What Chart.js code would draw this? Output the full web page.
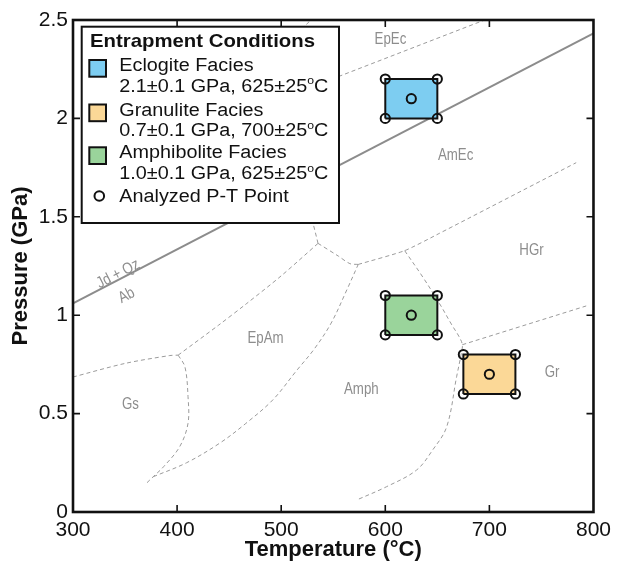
<!DOCTYPE html>
<html><head><meta charset="utf-8">
<script src="https://cdn.jsdelivr.net/npm/chart.js@4.4.0/dist/chart.umd.min.js"></script>
<style>html,body{margin:0;padding:0;background:#fff;}</style>
</head><body>
<canvas id="c" width="617" height="567"></canvas>
<script>
// ---------- data ----------
const tempTicks = [300, 400, 500, 600, 700, 800];      // °C
const pressTicks = [0, 0.5, 1, 1.5, 2, 2.5];           // GPa

const faciesNames = ['Eclogite Facies', 'Granulite Facies', 'Amphibolite Facies'];
const faciesP = [2.1, 0.7, 1.0];
const faciesPErr = [0.1, 0.1, 0.1];
const faciesT = [625, 700, 625];
const faciesTErr = [25, 25, 25];
const faciesColors = ['#7dcdf1', '#fbd897', '#9ad49b'];

// Jd + Qz = Ab reaction (solid)
const reactionT = [300, 800];
const reactionP = [1.06, 2.432];

// metamorphic facies boundaries (dashed)
const gsTopT = [300, 350, 393, 401];
const gsTopP = [0.686, 0.755, 0.795, 0.797];
const gsEpAmT = [401, 407.5, 410.5, 410.5, 402.5, 387, 377, 370.5];
const gsEpAmP = [0.797, 0.738, 0.586, 0.451, 0.332, 0.23, 0.179, 0.146];
const epAmTopT = [401, 440, 467, 500, 535.4];
const epAmTopP = [0.797, 0.95, 1.06, 1.2, 1.365];
const epAmAmphT = [377, 409, 441, 466, 492, 515, 532, 548, 563, 574];
const epAmAmphP = [0.179, 0.25, 0.35, 0.45, 0.57, 0.72, 0.83, 0.96, 1.128, 1.258];
const amEcLowT = [535.4, 555, 566, 574];
const amEcLowP = [1.365, 1.3, 1.262, 1.258];
const upLegT = [535.4, 530.3, 526];
const upLegP = [1.365, 1.474, 1.6];
const hgrTopT = [574, 618.6, 652, 783.4];
const hgrTopP = [1.258, 1.328, 1.416, 1.775];
const amphGrT = [618.6, 636, 652, 664, 671, 674, 673, 668.5, 659, 645.5, 630, 601, 572.5];
const amphGrP = [1.328, 1.194, 1.06, 0.95, 0.89, 0.85, 0.806, 0.687, 0.433, 0.315, 0.213, 0.128, 0.061];
const grHgrT = [674, 793];
const grHgrP = [0.85, 1.047];
const epEcT = [530, 556.2, 695.4];
const epEcP = [2.161, 2.215, 2.5];
const topLeftT = [505, 528.5];
const topLeftP = [2.378, 2.5];

const regionNames = ['EpEc', 'AmEc', 'HGr', 'Gr', 'Amph', 'EpAm', 'Gs'];
const regionT = [605, 667.6, 740.5, 760.2, 577, 485, 355.2];
const regionP = [2.398, 1.811, 1.326, 0.706, 0.62, 0.879, 0.544];
const reactionLabels = ['Jd + Qz', 'Ab'];
const reactionLabelT = [343.4, 351.5];
const reactionLabelP = [1.209, 1.099];

// ---------- build ----------
const FAM = "'Liberation Sans', Arial, Helvetica, sans-serif";
const zip = (T, P) => T.map((t, i) => ({x: t, y: P[i]}));

const pointData = [];
const boxSets = faciesNames.map((n, i) => {
  const t0 = faciesT[i] - faciesTErr[i], t1 = faciesT[i] + faciesTErr[i];
  const p0 = faciesP[i] - faciesPErr[i], p1 = faciesP[i] + faciesPErr[i];
  pointData.push({x: t0, y: p0}, {x: t1, y: p0}, {x: t1, y: p1}, {x: t0, y: p1}, {x: faciesT[i], y: faciesP[i]});
  return {
    type: 'line', label: n,
    data: [{x: t0, y: p0}, {x: t1, y: p0}, {x: t1, y: p1}, {x: t0, y: p1}, {x: t0, y: p0}],
    borderColor: '#111', borderWidth: 2, backgroundColor: faciesColors[i],
    fill: 'shape', pointRadius: 0, tension: 0
  };
});

const dashed = (T, P, tension) => ({
  type: 'line', data: zip(T, P), borderColor: '#9b9b9b', borderWidth: 1,
  borderDash: [4, 3], pointRadius: 0, fill: false, tension: tension || 0
});

const datasets = [
  {type: 'line', label: 'Analyzed P-T Point', data: pointData, showLine: false,
   pointRadius: 4.6, pointBorderWidth: 2, pointBorderColor: '#111',
   pointBackgroundColor: 'rgba(0,0,0,0)', pointStyle: 'circle'},
  ...boxSets,
  {type: 'line', data: zip(reactionT, reactionP), borderColor: '#8c8c8c', borderWidth: 2, pointRadius: 0, fill: false},
  dashed(gsTopT, gsTopP, 0.3),
  dashed(gsEpAmT, gsEpAmP, 0.35),
  dashed(epAmTopT, epAmTopP, 0.3),
  dashed(epAmAmphT, epAmAmphP, 0.35),
  dashed(amEcLowT, amEcLowP, 0.3),
  dashed(upLegT, upLegP, 0),
  dashed(hgrTopT, hgrTopP, 0.2),
  dashed(amphGrT, amphGrP, 0.35),
  dashed(grHgrT, grHgrP, 0),
  dashed(epEcT, epEcP, 0),
  dashed(topLeftT, topLeftP, 0)
];

function drawRich(ctx, text, x, y, size, sx, weight) {
  const parts = text.split('°');
  const segs = [];
  parts.forEach((p, i) => { if (i > 0) segs.push({t: 'o', sup: true}); segs.push({t: p}); });
  ctx.save(); ctx.translate(x, y); ctx.scale(sx, 1);
  ctx.textAlign = 'left'; ctx.textBaseline = 'alphabetic';
  let cx = 0;
  segs.forEach(s => {
    const fs = s.sup ? size * 0.62 : size;
    ctx.font = `${weight} ${fs}px ${FAM}`;
    ctx.fillText(s.t, cx, s.sup ? -size * 0.4 : 0);
    cx += ctx.measureText(s.t).width;
  });
  ctx.restore();
}

function drawNarrow(ctx, text, x, y, rot) {
  ctx.save();
  ctx.translate(x, y);
  if (rot) ctx.rotate(rot);
  ctx.scale(0.83, 1);
  ctx.fillText(text, 0, 0);
  ctx.restore();
}

const overlay = {
  id: 'overlay',
  afterDatasetsDraw(chart) {
    const {ctx, chartArea: a, scales: {x, y}} = chart;
    ctx.save();
    // region labels
    ctx.fillStyle = '#8d8d8d';
    ctx.font = `16px ${FAM}`;
    ctx.textAlign = 'center'; ctx.textBaseline = 'middle';
    regionNames.forEach((n, i) => drawNarrow(ctx, n, x.getPixelForValue(regionT[i]), y.getPixelForValue(regionP[i]), 0));
    const ang = Math.atan2(y.getPixelForValue(reactionP[1]) - y.getPixelForValue(reactionP[0]),
                           x.getPixelForValue(reactionT[1]) - x.getPixelForValue(reactionT[0]));
    reactionLabels.forEach((n, i) => drawNarrow(ctx, n, x.getPixelForValue(reactionLabelT[i]), y.getPixelForValue(reactionLabelP[i]), ang));

    // legend
    const L = a.left + 8.7, T = a.top + 6.7, W = 257.3, H = 196.3;
    ctx.fillStyle = '#fff';
    ctx.fillRect(L, T, W, H);
    ctx.lineWidth = 2; ctx.strokeStyle = '#111';
    ctx.strokeRect(L, T, W, H);
    ctx.fillStyle = '#111';
    drawRich(ctx, 'Entrapment Conditions', L + 8.3, T + 20, 18.5, 1.1, 'bold');
    const base = [T + 44.3, T + 88.8, T + 131.6];
    faciesNames.forEach((n, i) => {
      const b = base[i];
      ctx.fillStyle = faciesColors[i];
      ctx.fillRect(L + 7.6, b - 11, 16.7, 16.7);
      ctx.lineWidth = 2; ctx.strokeStyle = '#111';
      ctx.strokeRect(L + 7.6, b - 11, 16.7, 16.7);
      ctx.fillStyle = '#111';
      drawRich(ctx, n, L + 37.6, b, 18, 1.1, 'normal');
      const line2 = `${faciesP[i].toFixed(1)}±${faciesPErr[i]} GPa, ${faciesT[i]}±${faciesTErr[i]}°C`;
      drawRich(ctx, line2, L + 37.6, b + 20.5, 18, 1.1, 'normal');
    });
    const cb = T + 175;
    ctx.beginPath(); ctx.arc(L + 17.6, cb - 5.7, 4.8, 0, Math.PI * 2);
    ctx.lineWidth = 2; ctx.strokeStyle = '#111'; ctx.stroke();
    drawRich(ctx, 'Analyzed P-T Point', L + 37.6, cb, 18, 1.1, 'normal');

    // frame + inward ticks
    ctx.strokeStyle = '#111'; ctx.lineWidth = 1.6;
    const TL = 7;
    tempTicks.forEach(t => {
      if (t === tempTicks[0] || t === tempTicks[tempTicks.length - 1]) return;
      const px = x.getPixelForValue(t);
      ctx.beginPath();
      ctx.moveTo(px, a.bottom); ctx.lineTo(px, a.bottom - TL);
      ctx.moveTo(px, a.top); ctx.lineTo(px, a.top + TL);
      ctx.stroke();
    });
    pressTicks.forEach(p => {
      if (p === pressTicks[0] || p === pressTicks[pressTicks.length - 1]) return;
      const py = y.getPixelForValue(p);
      ctx.beginPath();
      ctx.moveTo(a.left, py); ctx.lineTo(a.left + TL, py);
      ctx.moveTo(a.right, py); ctx.lineTo(a.right - TL, py);
      ctx.stroke();
    });
    ctx.lineWidth = 2.6;
    ctx.strokeRect(a.left, a.top, a.right - a.left, a.bottom - a.top);
    ctx.restore();
  }
};

new Chart(document.getElementById('c'), {
  type: 'line',
  data: {datasets},
  options: {
    responsive: false, animation: false, devicePixelRatio: 1,
    layout: {padding: {left: 0, right: 23, top: 20, bottom: 0}},
    plugins: {legend: {display: false}, tooltip: {enabled: false}, filler: {drawTime: 'beforeDatasetDraw'}},
    scales: {
      x: {
        type: 'linear', min: 300, max: 800,
        afterBuildTicks: s => { s.ticks = tempTicks.map(v => ({value: v})); },
        afterFit: s => { s.height = 55; },
        grid: {display: false, drawTicks: false}, border: {display: false},
        ticks: {color: '#111', padding: 6, font: {size: 21, family: FAM}, maxRotation: 0,
                callback: v => String(v)},
        title: {display: true, text: 'Temperature (°C)', color: '#111',
                font: {size: 22, weight: 'bold', family: FAM}, padding: {top: 0, bottom: 4}}
      },
      y: {
        type: 'linear', min: 0, max: 2.5,
        afterBuildTicks: s => { s.ticks = pressTicks.map(v => ({value: v})); },
        afterFit: s => { s.width = 73; },
        grid: {display: false, drawTicks: false}, border: {display: false},
        ticks: {color: '#111', padding: 5, font: {size: 21, family: FAM},
                callback: v => String(v)},
        title: {display: true, text: 'Pressure (GPa)', color: '#111',
                font: {size: 22, weight: 'bold', family: FAM}, padding: {top: 8, bottom: 0}}
      }
    }
  },
  plugins: [overlay]
});
</script>
</body></html>
